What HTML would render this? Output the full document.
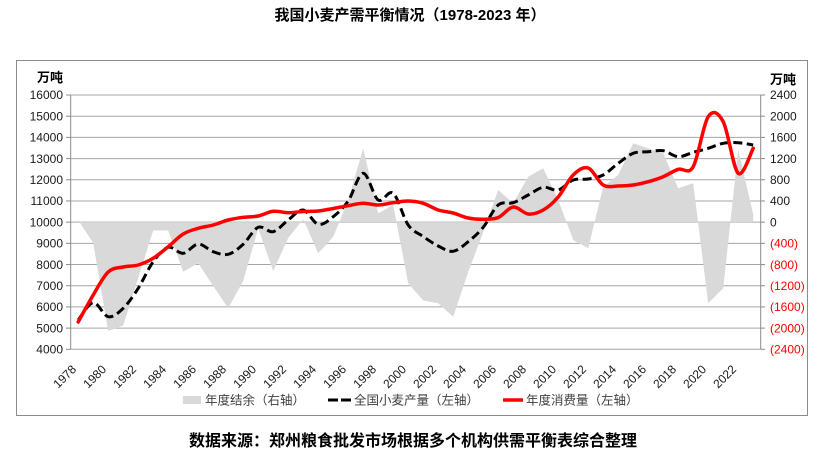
<!DOCTYPE html>
<html>
<head>
<meta charset="utf-8">
<style>
  html,body{margin:0;padding:0;background:#fff;}
  svg{display:block;}
  text{font-family:"Liberation Sans","Noto Sans CJK SC",sans-serif;}
</style>
</head>
<body>
<svg id="chart" width="838" height="453" viewBox="0 0 838 453" xmlns="http://www.w3.org/2000/svg">
  <rect x="0" y="0" width="838" height="453" fill="#fff"/>
  <!-- Title -->
  <text x="410" y="20" text-anchor="middle" font-size="15" font-weight="bold" fill="#000">我国小麦产需平衡情况（1978-2023 年）</text>
  <!-- chart frame -->
  <rect x="16.5" y="60.5" width="791" height="355" fill="none" stroke="#8c8c8c" stroke-width="1"/>

  <!-- gridlines -->
  <g stroke="#a6a6a6" stroke-width="1">
    <line x1="70.7" x2="760.7" y1="95" y2="95"/>
    <line x1="70.7" x2="760.7" y1="116.19" y2="116.19"/>
    <line x1="70.7" x2="760.7" y1="137.38" y2="137.38"/>
    <line x1="70.7" x2="760.7" y1="158.58" y2="158.58"/>
    <line x1="70.7" x2="760.7" y1="179.77" y2="179.77"/>
    <line x1="70.7" x2="760.7" y1="200.96" y2="200.96"/>
    <line x1="70.7" x2="760.7" y1="222.15" y2="222.15"/>
    <line x1="70.7" x2="760.7" y1="243.34" y2="243.34"/>
    <line x1="70.7" x2="760.7" y1="264.53" y2="264.53"/>
    <line x1="70.7" x2="760.7" y1="285.73" y2="285.73"/>
    <line x1="70.7" x2="760.7" y1="306.92" y2="306.92"/>
    <line x1="70.7" x2="760.7" y1="328.11" y2="328.11"/>
    <line x1="70.7" x2="760.7" y1="349.3" y2="349.3"/>
  </g>

  <!-- gray area: 年度结余 -->
  <polygon fill="#d9d9d9" points="78.2,222.15 78.2,220 93.2,243 108.2,331 123.2,325.5 138.2,278 153.2,230.5 168.2,230.5 183.2,271.7 198.2,263.3 213.2,286 228.2,308.3 243.2,281 258.2,228.5 273.2,271 288.2,238 303.2,219.3 318.2,253.3 333.2,236.7 348.2,200.3 363.2,148.3 378.2,213.3 393.2,205 408.2,283.3 423.2,300.5 438.2,303.3 453.2,316.7 468.2,272 483.2,232 498.2,190 513.2,203.3 528.2,176.7 543.2,168.3 558.2,200 573.2,240 588.2,248.3 603.2,186.7 618.2,175 633.2,143.3 648.2,148.3 663.2,153.3 678.2,188.3 693.2,183.3 708.2,303.3 723.2,288.3 738.2,150 753.2,214 753.2,222.15"/>

  <!-- axes -->
  <g stroke="#8c8c8c" stroke-width="1">
    <line x1="70.7" x2="70.7" y1="95" y2="349.3"/>
    <line x1="760.7" x2="760.7" y1="95" y2="349.3"/>
    <!-- left ticks -->
    <line x1="66" x2="70.7" y1="95" y2="95"/>
    <line x1="66" x2="70.7" y1="116.19" y2="116.19"/>
    <line x1="66" x2="70.7" y1="137.38" y2="137.38"/>
    <line x1="66" x2="70.7" y1="158.58" y2="158.58"/>
    <line x1="66" x2="70.7" y1="179.77" y2="179.77"/>
    <line x1="66" x2="70.7" y1="200.96" y2="200.96"/>
    <line x1="66" x2="70.7" y1="222.15" y2="222.15"/>
    <line x1="66" x2="70.7" y1="243.34" y2="243.34"/>
    <line x1="66" x2="70.7" y1="264.53" y2="264.53"/>
    <line x1="66" x2="70.7" y1="285.73" y2="285.73"/>
    <line x1="66" x2="70.7" y1="306.92" y2="306.92"/>
    <line x1="66" x2="70.7" y1="328.11" y2="328.11"/>
    <line x1="66" x2="70.7" y1="349.3" y2="349.3"/>
    <!-- right ticks -->
    <line x1="760.7" x2="765" y1="95" y2="95"/>
    <line x1="760.7" x2="765" y1="116.19" y2="116.19"/>
    <line x1="760.7" x2="765" y1="137.38" y2="137.38"/>
    <line x1="760.7" x2="765" y1="158.58" y2="158.58"/>
    <line x1="760.7" x2="765" y1="179.77" y2="179.77"/>
    <line x1="760.7" x2="765" y1="200.96" y2="200.96"/>
    <line x1="760.7" x2="765" y1="222.15" y2="222.15"/>
    <line x1="760.7" x2="765" y1="243.34" y2="243.34"/>
    <line x1="760.7" x2="765" y1="264.53" y2="264.53"/>
    <line x1="760.7" x2="765" y1="285.73" y2="285.73"/>
    <line x1="760.7" x2="765" y1="306.92" y2="306.92"/>
    <line x1="760.7" x2="765" y1="328.11" y2="328.11"/>
    <line x1="760.7" x2="765" y1="349.3" y2="349.3"/>
  </g>

  <!-- black dashed: 全国小麦产量 -->
  <polyline id="blk" class="smooth" fill="none" stroke="#000" stroke-width="3" stroke-dasharray="9,4.5" stroke-linejoin="round"
    points="78.2,320 93.2,302.7 108.2,316.7 123.2,308.3 138.2,288.3 153.2,261.7 168.2,247.3 183.2,253.3 198.2,244 213.2,251.7 228.2,254.3 243.2,244.3 258.2,227.3 273.2,231.7 288.2,220 303.2,210 318.2,224.3 333.2,216.7 348.2,201 363.2,173.3 378.2,200 393.2,193.3 408.2,225 423.2,236.5 438.2,246 453.2,251.3 468.2,241.7 483.2,227.3 498.2,205 513.2,202.7 528.2,195 543.2,187.3 558.2,190 573.2,180 588.2,179 603.2,175 618.2,163.3 633.2,153.3 648.2,151.7 663.2,150.7 678.2,156.7 693.2,152.3 708.2,148.3 723.2,143.3 738.2,142.7 753.2,145"/>

  <!-- red: 年度消费量 -->
  <polyline id="red" class="smooth" fill="none" stroke="#ff0000" stroke-width="3.5" stroke-linejoin="round" stroke-linecap="round"
    points="78.2,322 93.2,295 108.2,272 123.2,267 138.2,265 153.2,258.3 168.2,246.7 183.2,234 198.2,228.3 213.2,225 228.2,220 243.2,217.3 258.2,216 273.2,211.3 288.2,212.7 303.2,211.5 318.2,211 333.2,208.5 348.2,205.7 363.2,203.3 378.2,205 393.2,202.7 408.2,201 423.2,203.3 438.2,210 453.2,213 468.2,218 483.2,219.3 498.2,217.5 513.2,207 528.2,214 543.2,210 558.2,197 573.2,175 588.2,168 603.2,185 618.2,186 633.2,185 648.2,181.7 663.2,176.7 678.2,169.3 693.2,166.7 708.2,116.7 723.2,121.7 738.2,173.3 753.2,148.3"/>

  <!-- axis unit labels -->
  <text x="63" y="82" text-anchor="end" font-size="13" font-weight="bold" fill="#000">万吨</text>
  <text x="770" y="84" font-size="13" font-weight="bold" fill="#000">万吨</text>

  <!-- left tick labels -->
  <g font-size="12" fill="#1a1a1a" text-anchor="end">
    <text x="63" y="99.2">16000</text>
    <text x="63" y="120.4">15000</text>
    <text x="63" y="141.6">14000</text>
    <text x="63" y="162.8">13000</text>
    <text x="63" y="184">12000</text>
    <text x="63" y="205.2">11000</text>
    <text x="63" y="226.4">10000</text>
    <text x="63" y="247.6">9000</text>
    <text x="63" y="268.8">8000</text>
    <text x="63" y="290">7000</text>
    <text x="63" y="311.2">6000</text>
    <text x="63" y="332.4">5000</text>
    <text x="63" y="353.6">4000</text>
  </g>

  <!-- right tick labels -->
  <g font-size="12">
    <text x="770" y="99.2" fill="#1a1a1a">2400</text>
    <text x="770" y="120.4" fill="#1a1a1a">2000</text>
    <text x="770" y="141.6" fill="#1a1a1a">1600</text>
    <text x="770" y="162.8" fill="#1a1a1a">1200</text>
    <text x="770" y="184" fill="#1a1a1a">800</text>
    <text x="770" y="205.2" fill="#1a1a1a">400</text>
    <text x="770" y="226.4" fill="#1a1a1a">0</text>
    <text x="770" y="247.6" fill="#ff0000">(400)</text>
    <text x="770" y="268.8" fill="#ff0000">(800)</text>
    <text x="770" y="290" fill="#ff0000">(1200)</text>
    <text x="770" y="311.2" fill="#ff0000">(1600)</text>
    <text x="770" y="332.4" fill="#ff0000">(2000)</text>
    <text x="770" y="353.6" fill="#ff0000">(2400)</text>
  </g>

  <!-- x-axis labels -->
  <g font-size="12" fill="#1a1a1a" text-anchor="end">
    <text transform="translate(77,370) rotate(-45)">1978</text>
    <text transform="translate(107,370) rotate(-45)">1980</text>
    <text transform="translate(137,370) rotate(-45)">1982</text>
    <text transform="translate(167,370) rotate(-45)">1984</text>
    <text transform="translate(197,370) rotate(-45)">1986</text>
    <text transform="translate(227,370) rotate(-45)">1988</text>
    <text transform="translate(257,370) rotate(-45)">1990</text>
    <text transform="translate(287,370) rotate(-45)">1992</text>
    <text transform="translate(317,370) rotate(-45)">1994</text>
    <text transform="translate(347,370) rotate(-45)">1996</text>
    <text transform="translate(377,370) rotate(-45)">1998</text>
    <text transform="translate(407,370) rotate(-45)">2000</text>
    <text transform="translate(437,370) rotate(-45)">2002</text>
    <text transform="translate(467,370) rotate(-45)">2004</text>
    <text transform="translate(497,370) rotate(-45)">2006</text>
    <text transform="translate(527,370) rotate(-45)">2008</text>
    <text transform="translate(557,370) rotate(-45)">2010</text>
    <text transform="translate(587,370) rotate(-45)">2012</text>
    <text transform="translate(617,370) rotate(-45)">2014</text>
    <text transform="translate(647,370) rotate(-45)">2016</text>
    <text transform="translate(677,370) rotate(-45)">2018</text>
    <text transform="translate(707,370) rotate(-45)">2020</text>
    <text transform="translate(737,370) rotate(-45)">2022</text>
  </g>

  <!-- legend -->
  <rect x="183" y="396" width="18" height="8" fill="#d9d9d9"/>
  <text x="205" y="404.5" font-size="12.5" fill="#404040">年度结余（右轴）</text>
  <line x1="328" x2="352" y1="400" y2="400" stroke="#000" stroke-width="3" stroke-dasharray="10,3"/>
  <text x="354" y="404.5" font-size="12.5" fill="#404040">全国小麦产量（左轴）</text>
  <line x1="503" x2="523" y1="400" y2="400" stroke="#ff0000" stroke-width="3.5"/>
  <text x="526" y="404.5" font-size="12.5" fill="#404040">年度消费量（左轴）</text>

  <!-- source -->
  <text x="413" y="446" text-anchor="middle" font-size="16" font-weight="bold" fill="#000">数据来源：郑州粮食批发市场根据多个机构供需平衡表综合整理</text>
</svg>
<script>
(function(){
  var ns="http://www.w3.org/2000/svg";
  var els=document.querySelectorAll("polyline.smooth");
  for(var k=0;k<els.length;k++){
    var pl=els[k];
    var raw=pl.getAttribute("points").trim().split(/\s+/);
    var p=raw.map(function(s){var a=s.split(",");return [parseFloat(a[0]),parseFloat(a[1])];});
    var n=p.length, d="M"+p[0][0]+","+p[0][1];
    for(var i=0;i<n-1;i++){
      var p0=p[Math.max(i-1,0)],p1=p[i],p2=p[i+1],p3=p[Math.min(i+2,n-1)];
      var c1x=p1[0]+(p2[0]-p0[0])/6,c1y=p1[1]+(p2[1]-p0[1])/6;
      var c2x=p2[0]-(p3[0]-p1[0])/6,c2y=p2[1]-(p3[1]-p1[1])/6;
      d+=" C"+c1x.toFixed(2)+","+c1y.toFixed(2)+" "+c2x.toFixed(2)+","+c2y.toFixed(2)+" "+p2[0]+","+p2[1];
    }
    var path=document.createElementNS(ns,"path");
    for(var j=0;j<pl.attributes.length;j++){
      var at=pl.attributes[j];
      if(at.name!=="points"&&at.name!=="class"&&at.name!=="id"){path.setAttribute(at.name,at.value);}
    }
    path.setAttribute("d",d);
    pl.parentNode.replaceChild(path,pl);
  }
})();
</script>
</body>
</html>
